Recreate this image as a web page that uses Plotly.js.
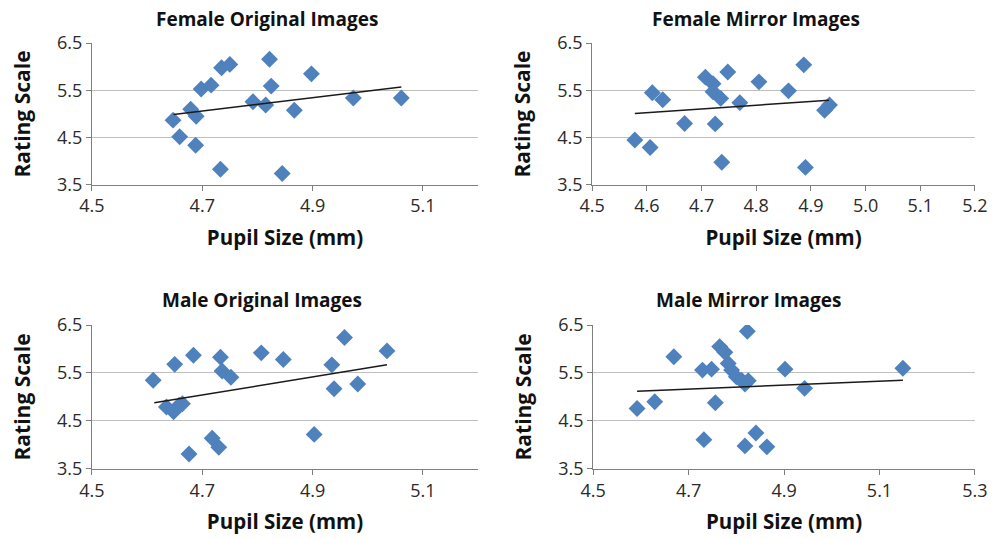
<!DOCTYPE html>
<html><head><meta charset="utf-8">
<script src="https://cdn.plot.ly/plotly-3.0.1.min.js"></script>
<style>html,body{margin:0;padding:0;background:#fff}#c{width:1002px;height:539px}</style>
</head><body><div id="c"></div>
<script>
// Female Original Images
const foX = [4.647,4.659,4.679,4.689,4.688,4.698,4.716,4.735,4.750,4.733,4.792,4.815,4.822,4.825,4.845,4.867,4.898,4.974,5.061];
const foY = [4.87,4.52,5.10,4.95,4.34,5.53,5.61,5.98,6.05,3.83,5.26,5.19,6.16,5.59,3.74,5.08,5.85,5.34,5.34];
const foTrendX = [4.648,5.061];
const foTrendY = [4.99,5.57];
// Female Mirror Images
const fmX = [4.578,4.606,4.610,4.629,4.669,4.707,4.721,4.721,4.735,4.725,4.748,4.737,4.770,4.805,4.859,4.887,4.890,4.925,4.934];
const fmY = [4.45,4.29,5.45,5.30,4.80,5.78,5.64,5.47,5.33,4.79,5.89,3.98,5.24,5.68,5.49,6.04,3.87,5.08,5.19];
const fmTrendX = [4.578,4.933];
const fmTrendY = [5.01,5.29];
// Male Original Images
const moX = [4.611,4.635,4.648,4.658,4.664,4.650,4.684,4.676,4.718,4.730,4.733,4.736,4.752,4.807,4.847,4.903,4.935,4.939,4.958,4.982,5.035];
const moY = [5.35,4.79,4.69,4.83,4.86,5.68,5.87,3.81,4.14,3.95,5.83,5.54,5.41,5.92,5.78,4.22,5.67,5.17,6.24,5.27,5.96];
const moTrendX = [4.613,5.035];
const moTrendY = [4.88,5.67];
// Male Mirror Images
const mmX = [4.592,4.629,4.669,4.729,4.748,4.732,4.756,4.765,4.776,4.783,4.790,4.800,4.811,4.818,4.825,4.823,4.841,4.818,4.864,4.902,4.943,5.149];
const mmY = [4.76,4.90,5.84,5.56,5.58,4.11,4.88,6.05,5.93,5.70,5.56,5.42,5.35,5.27,5.34,6.37,4.25,3.98,3.96,5.58,5.18,5.60];
const mmTrendX = [4.592,5.149];
const mmTrendY = [5.12,5.35];

const panelTitles = ["Female Original Images","Female Mirror Images","Male Original Images","Male Mirror Images"];
const xTitle = "Pupil Size (mm)";
const yTitle = "Rating Scale";

const FONT = "'Open Sans', sans-serif";
const blue = "#4F81BD";
const sets = [[foX,foY,foTrendX,foTrendY],[fmX,fmY,fmTrendX,fmTrendY],[moX,moY,moTrendX,moTrendY],[mmX,mmY,mmTrendX,mmTrendY]];
const traces = [];
sets.forEach((s,i)=>{
  const xa = i===0?'x':'x'+(i+1), ya = i===0?'y':'y'+(i+1);
  traces.push({type:'scatter',mode:'markers',x:s[0],y:s[1],xaxis:xa,yaxis:ya,
    marker:{symbol:'diamond',size:13,color:blue,line:{width:0}},hoverinfo:'x+y'});
  traces.push({type:'scatter',mode:'lines',x:s[2],y:s[3],xaxis:xa,yaxis:ya,
    line:{color:'#1a1a1a',width:1.5},hoverinfo:'skip'});
});

const xd = [[0.0918,0.477],[0.591,0.973],[0.0918,0.477],[0.592,0.973]];
const yd = [[0.657,0.920],[0.657,0.920],[0.130,0.397],[0.130,0.397]];
const xr = [[4.5,5.2,0.2],[4.5,5.2,0.1],[4.5,5.2,0.2],[4.5,5.3,0.2]];
const titleX = [267,756,262,748];
const titleY = [19,19,300,300];
const layout = {width:1002,height:539,margin:{l:0,r:0,t:0,b:0},showlegend:false,
  paper_bgcolor:'#fff',plot_bgcolor:'#fff',font:{family:FONT,color:'#222'},annotations:[]};
for(let i=0;i<4;i++){
  const k = i===0?'':String(i+1);
  const xa = {domain:xd[i],anchor:'y'+k,range:[xr[i][0],xr[i][1]],tick0:4.5,dtick:xr[i][2],
    tickformat:'.1f',showgrid:false,zeroline:false,showline:true,linecolor:'#7f7f7f',linewidth:1,
    ticks:'outside',ticklen:5,tickcolor:'#7f7f7f',tickfont:{size:18,family:FONT,color:'#2a2a2a'},
    title:{text:'<b>'+xTitle+'</b>',font:{size:20.5,family:FONT,color:'#111'},standoff:14}};
  const ya = {domain:yd[i],anchor:'x'+k,range:[3.5,6.5],tick0:3.5,dtick:1,tickformat:'.1f',
    showgrid:true,gridcolor:'#bfbfbf',gridwidth:1,zeroline:false,showline:true,linecolor:'#7f7f7f',linewidth:1,
    ticks:'outside',ticklen:5,tickcolor:'#7f7f7f',tickfont:{size:18,family:FONT,color:'#2a2a2a'},
    title:{text:'<b>'+yTitle+'</b>',font:{size:21,family:FONT,color:'#111'},standoff:20}};
  layout['xaxis'+k]=xa; layout['yaxis'+k]=ya;
  layout.annotations.push({text:'<b>'+panelTitles[i]+'</b>',xref:'paper',yref:'paper',
    x:titleX[i]/1002,y:1-titleY[i]/539,xanchor:'center',yanchor:'middle',showarrow:false,
    font:{size:19,family:FONT,color:'#111'}});
}
Plotly.newPlot('c',traces,layout,{staticPlot:true});
</script></body></html>
